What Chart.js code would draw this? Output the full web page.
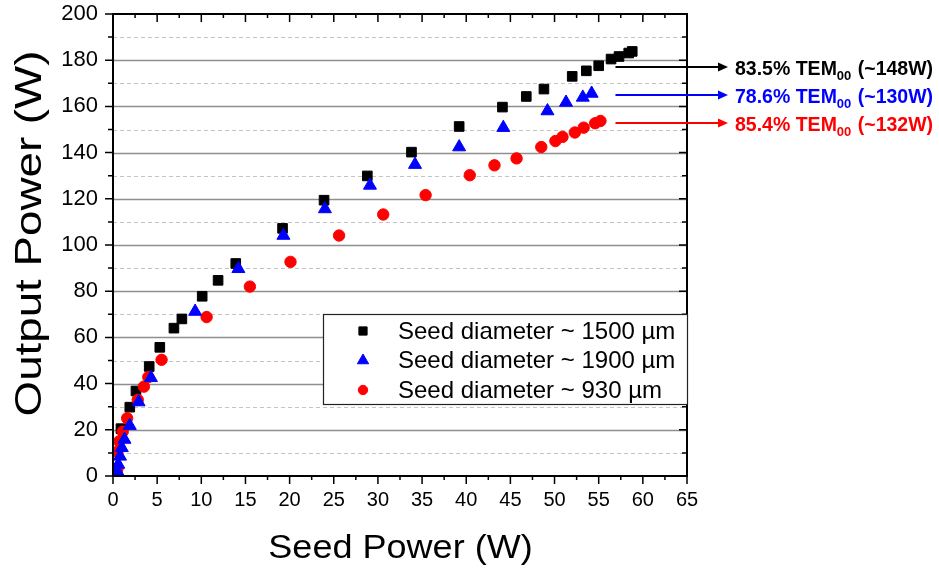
<!DOCTYPE html>
<html>
<head>
<meta charset="utf-8">
<title>Output power vs seed power</title>
<script src="https://cdn.jsdelivr.net/npm/chart.js@4.4.1/dist/chart.umd.min.js"></script>
<style>
  html, body { margin: 0; padding: 0; background: #fff; }
  canvas { display: block; }
</style>
</head>
<body>
<canvas id="chart" width="939" height="569"></canvas>
<script>
    // seed power (W) / output power (W)
    var seed1500 = [0.9, 1.9, 2.6, 4.1, 5.3, 6.9, 7.8, 10.1, 11.9, 13.9, 19.2, 23.9, 28.8, 33.8, 39.2, 44.1, 46.8, 48.8, 52.0, 53.6, 55.0, 56.4, 57.3, 58.4, 58.8];
    var out1500 = [20.5, 29.8, 36.8, 47.4, 55.7, 64.0, 68.0, 77.8, 84.7, 92.0, 107.2, 119.4, 129.9, 140.2, 151.3, 159.7, 164.3, 167.5, 173.0, 175.4, 177.6, 180.5, 181.6, 183.1, 183.8];

    var seed1900 = [0.5, 0.6, 0.8, 1.0, 1.3, 1.9, 2.9, 4.3, 9.3, 14.2, 19.3, 24.0, 29.1, 34.2, 39.2, 44.2, 49.2, 51.3, 53.2, 54.2];
    var out1900 = [2.0, 5.0, 8.5, 12.2, 15.8, 21.8, 32.0, 42.5, 71.2, 89.7, 104.1, 115.6, 125.8, 134.8, 142.4, 150.8, 158.0, 161.7, 163.9, 165.6];

    var seed930 = [0.2, 0.5, 0.5, 0.7, 1.1, 1.6, 2.8, 3.5, 4.0, 5.5, 10.6, 15.5, 20.1, 25.6, 30.6, 35.4, 40.4, 43.2, 45.7, 48.5, 50.1, 50.9, 52.3, 53.3, 54.6, 55.2];
    var out930 = [0.8, 3.0, 10.5, 15.0, 19.2, 25.0, 33.0, 38.7, 42.8, 50.3, 68.8, 82.0, 92.7, 104.1, 113.2, 121.6, 130.2, 134.5, 137.5, 142.4, 145.0, 146.8, 148.7, 150.8, 152.7, 153.7];

    var seriesNames = ['Seed diameter ~ 1500 \u00b5m', 'Seed diameter ~ 1900 \u00b5m', 'Seed diameter ~ 930 \u00b5m'];

    // TEM00 content notes at the right of the plot
    var temShare = ['83.5%', '78.6%', '85.4%'];
    var temPower = ['(~148W)', '(~130W)', '(~132W)'];
    var arrowLevel = [177, 165, 153];

    var FONT = 'Arial, "Liberation Sans", Helvetica, sans-serif';

    function pts(xs, ys) {
        return xs.map(function (x, i) { return {x: x, y: ys[i]}; });
    }

    var frame = {
        id: 'frame',
        beforeDatasetsDraw: function (chart) {
            var ctx = chart.ctx, a = chart.chartArea, ys = chart.scales.y;
            ctx.save();
            for (var v = 10; v < 200; v += 10) {
                var py = Math.round(ys.getPixelForValue(v)) + 0.5;
                ctx.beginPath();
                if (v % 20 === 0) {
                    ctx.strokeStyle = '#8f8f8f'; ctx.lineWidth = 1.3; ctx.setLineDash([]);
                } else {
                    ctx.strokeStyle = '#c4c4c4'; ctx.lineWidth = 1; ctx.setLineDash([4, 3]);
                }
                ctx.moveTo(a.left, py);
                ctx.lineTo(a.right, py);
                ctx.stroke();
            }
            ctx.restore();
        },
        afterDatasetsDraw: function (chart) {
            var ctx = chart.ctx, a = chart.chartArea;
            var xs = chart.scales.x, ys = chart.scales.y;
            ctx.save();
            ctx.strokeStyle = '#000';
            ctx.lineWidth = 2;
            ctx.strokeRect(a.left, a.top, a.right - a.left, a.bottom - a.top);
            ctx.lineWidth = 1.5;
            ctx.beginPath();
            for (var v = 0; v <= 65; v += 2.5) {
                var px = xs.getPixelForValue(v);
                var len = v % 5 === 0 ? 8 : 4;
                ctx.moveTo(px, a.bottom); ctx.lineTo(px, a.bottom + len);
                ctx.moveTo(px, a.top); ctx.lineTo(px, a.top + len);
            }
            for (var w = 0; w <= 200; w += 10) {
                var py = ys.getPixelForValue(w);
                var l2 = w % 20 === 0 ? 8 : 5;
                ctx.moveTo(a.left - l2, py); ctx.lineTo(a.left, py);
                ctx.moveTo(a.right - l2, py); ctx.lineTo(a.right, py);
            }
            ctx.stroke();

            // legend box
            var bx = 323, by = 314, bw = 364, bh = 90;
            ctx.fillStyle = '#fff';
            ctx.fillRect(bx, by, bw, bh);
            ctx.strokeStyle = '#222';
            ctx.lineWidth = 1.2;
            ctx.strokeRect(bx + 0.5, by + 0.5, bw, bh);
            ctx.font = '24px ' + FONT;
            ctx.textBaseline = 'middle';
            ctx.textAlign = 'left';
            chart.data.datasets.forEach(function (ds, i) {
                var ry = by + 17 + i * 29.5;
                ctx.fillStyle = ds.backgroundColor;
                ctx.strokeStyle = ds.borderColor;
                ctx.lineWidth = 1;
                Chart.helpers.drawPoint(ctx, {pointStyle: ds.pointStyle, radius: ds.pointRadius - 1, rotation: 0, borderWidth: 1}, 363, ry);
                ctx.fillStyle = '#000';
                ctx.fillText(ds.label, 398, ry + 1);
            });

            // TEM00 arrows and notes
            chart.data.datasets.forEach(function (ds, i) {
                var y = Math.round(ys.getPixelForValue(arrowLevel[i]));
                var x0 = xs.getPixelForValue(56.9), tip = 728;
                ctx.strokeStyle = ds.backgroundColor;
                ctx.fillStyle = ds.backgroundColor;
                ctx.lineWidth = 2;
                ctx.beginPath();
                ctx.moveTo(x0, y); ctx.lineTo(tip - 8, y);
                ctx.stroke();
                ctx.beginPath();
                ctx.moveTo(tip, y); ctx.lineTo(tip - 10, y - 4.5); ctx.lineTo(tip - 10, y + 4.5);
                ctx.closePath();
                ctx.fill();

                var tx = 735, base = y + 8;
                ctx.textBaseline = 'alphabetic';
                ctx.font = 'bold 19.5px ' + FONT;
                var s1 = temShare[i] + ' TEM';
                ctx.fillText(s1, tx, base);
                tx += ctx.measureText(s1).width;
                ctx.font = 'bold 13px ' + FONT;
                ctx.fillText('00', tx, base + 5);
                tx += ctx.measureText('00').width + 1;
                ctx.font = 'bold 19.5px ' + FONT;
                ctx.fillText(' ' + temPower[i], tx, base);
            });

            // axis titles
            ctx.fillStyle = '#000';
            ctx.textAlign = 'center';
            ctx.textBaseline = 'alphabetic';
            ctx.font = '34px ' + FONT;
            ctx.save();
            ctx.translate(400.5, 558);
            ctx.scale(1.06, 1);
            ctx.fillText('Seed Power (W)', 0, 0);
            ctx.restore();
            ctx.save();
            ctx.translate(41, 233.5);
            ctx.rotate(-Math.PI / 2);
            ctx.scale(1.27, 1);
            ctx.font = '36px ' + FONT;
            ctx.fillText('Output Power (W)', 0, 0);
            ctx.restore();
            ctx.restore();
        }
    };

    var ctx = document.getElementById('chart').getContext('2d');
    var chart = new Chart(ctx, {
        type: 'scatter',
        data: {
            datasets: [
                {
                    label: seriesNames[0],
                    data: pts(seed1500, out1500),
                    pointStyle: 'rect',
                    pointRadius: 6.8,
                    backgroundColor: '#000000',
                    borderColor: '#000000',
                    borderWidth: 1,
                    order: 3
                },
                {
                    label: seriesNames[1],
                    data: pts(seed1900, out1900),
                    pointStyle: 'triangle',
                    pointRadius: 7.5,
                    backgroundColor: '#0000ff',
                    borderColor: '#0000ff',
                    borderWidth: 1,
                    order: 1
                },
                {
                    label: seriesNames[2],
                    data: pts(seed930, out930),
                    pointStyle: 'circle',
                    pointRadius: 5.7,
                    backgroundColor: '#ff0000',
                    borderColor: '#ff0000',
                    borderWidth: 1,
                    order: 2
                }
            ]
        },
        options: {
            responsive: false,
            animation: false,
            layout: {padding: {top: 14, right: 252, left: 0, bottom: 0}},
            plugins: {legend: {display: false}, tooltip: {enabled: false}},
            scales: {
                x: {
                    type: 'linear', min: 0, max: 65,
                    grid: {display: false, drawTicks: false},
                    border: {display: false},
                    ticks: {stepSize: 5, padding: 12, color: '#000', autoSkip: false, maxRotation: 0,
                        font: {family: FONT, size: 20}},
                    afterFit: function (s) { s.height = 93; s.paddingLeft = 0; s.paddingRight = 0; }
                },
                y: {
                    type: 'linear', min: 0, max: 200,
                    grid: {display: false, drawTicks: false},
                    border: {display: false},
                    ticks: {stepSize: 20, padding: 15, color: '#000', autoSkip: false,
                        font: {family: FONT, size: 22}},
                    afterFit: function (s) { s.width = 113; s.paddingTop = 0; s.paddingBottom = 0; }
                }
            }
        },
        plugins: [frame]
    });
</script>
</body>
</html>
